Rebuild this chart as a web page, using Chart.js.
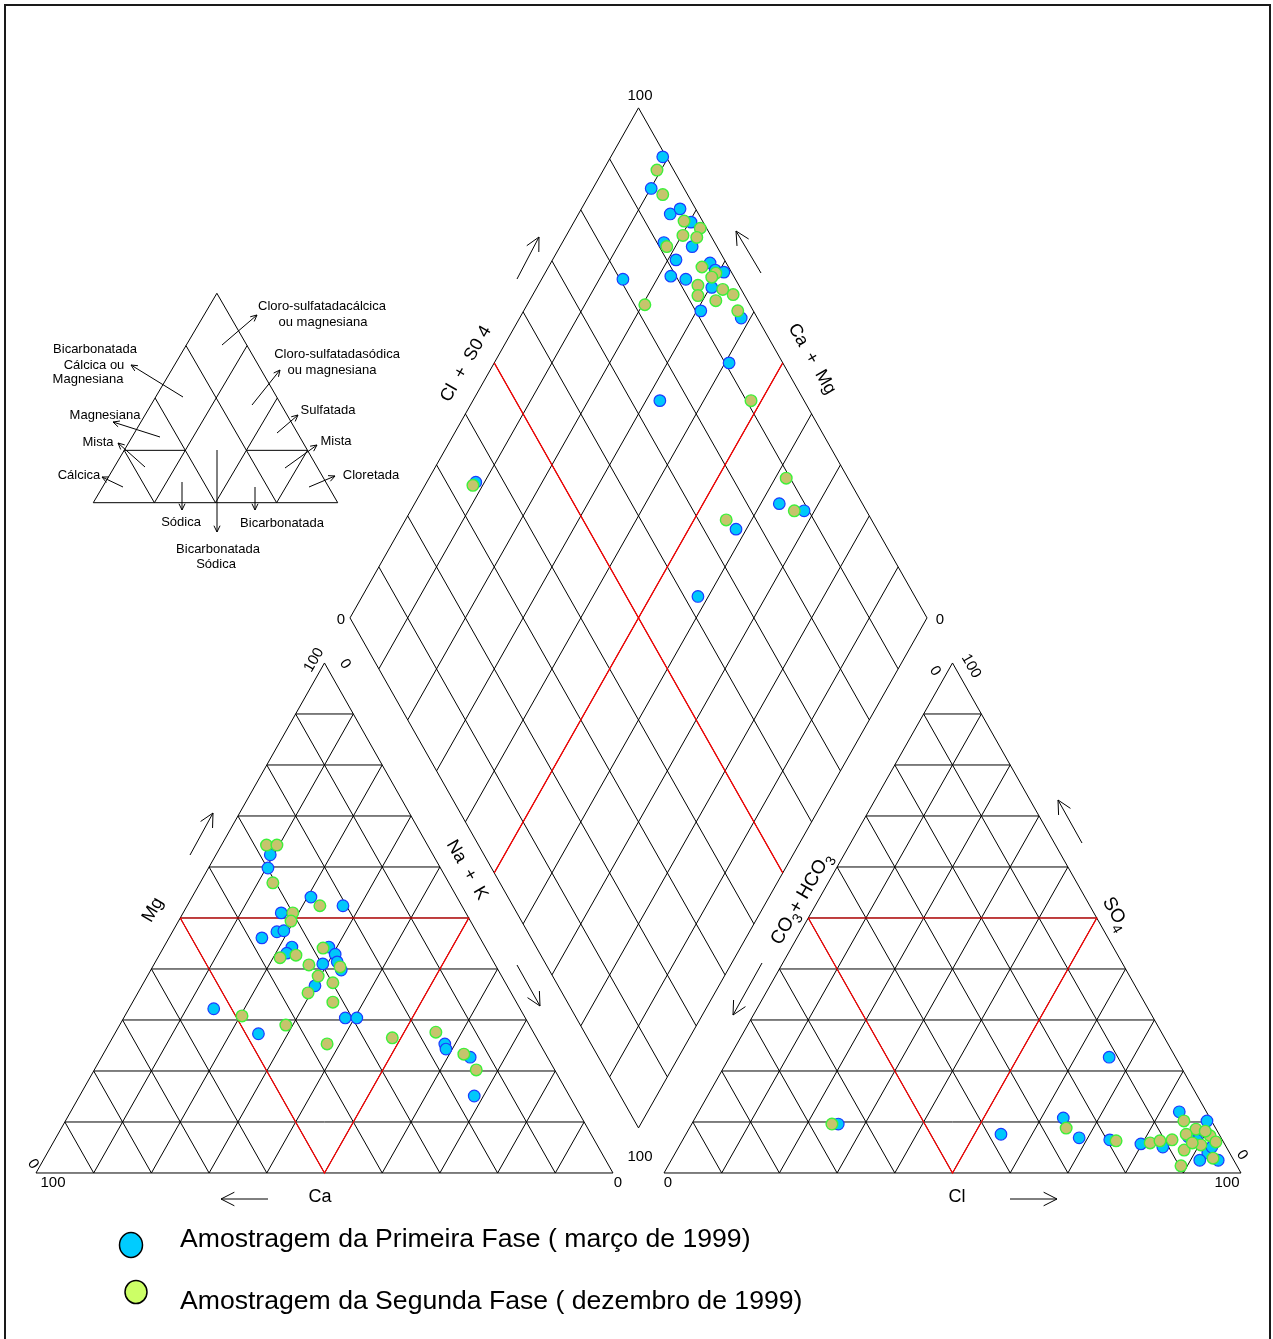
<!DOCTYPE html>
<html>
<head>
<meta charset="utf-8">
<script src="https://cdn.jsdelivr.net/npm/chart.js@4.4.1/dist/chart.umd.min.js"></script>
<style>
  html, body { margin: 0; padding: 0; background: #ffffff; }
  #wrap { width: 1273px; height: 1339px; position: relative; }
  canvas { display: block; }
</style>
</head>
<body>
<div id="wrap"><canvas id="piper" width="1273" height="1339"></canvas></div>
<script>
// ---- Piper diagram data ----------------------------------------------------
// Grid divisions (percent) used in every ternary field
const gridSteps = [10, 20, 30, 40, 50, 60, 70, 80, 90];
const axisEndLabels = ['0', '100'];

// Cation triangle (% meq): Ca and Mg; Na+K = 100 - Ca - Mg
const fase1Ca = [28.2, 29.9, 25.3, 20.6, 32.0, 34.6, 33.3, 37.8, 33.5, 35.0, 27.1, 26.7, 27.1, 29.8, 27.2, 33.3, 53.1, 31.2, 29.2, 47.8, 16.5, 16.8, 13.4, 16.5];
const fase1Mg = [62.4, 59.8, 54.1, 52.4, 51.0, 47.3, 47.5, 46.1, 44.3, 43.1, 44.3, 42.9, 41.4, 41.0, 39.8, 36.7, 32.2, 30.4, 30.4, 27.3, 25.3, 24.3, 22.7, 15.1];
const fase2Ca = [27.9, 26.1, 30.5, 24.6, 30.0, 31.1, 33.6, 36.6, 28.2, 32.3, 27.1, 31.8, 29.9, 35.2, 31.8, 48.9, 42.2, 36.9, 25.0, 16.9, 14.2, 13.6];
const fase2Mg = [64.3, 64.3, 56.9, 52.4, 51.0, 49.4, 42.7, 42.2, 44.1, 40.8, 40.4, 38.6, 37.3, 35.3, 33.5, 30.8, 29.0, 25.3, 26.5, 27.6, 23.3, 20.2];

// Anion triangle (% meq): Cl and SO4; CO3+HCO3 = 100 - Cl - SO4
const fase1Cl  = [65.8, 25.4, 54.6, 63.8, 68.5, 74.0, 79.8, 83.9, 83.3, 89.0, 89.1, 92.3, 94.8, 87.3, 92.4, 91.6];
const fase1SO4 = [22.7,  9.6,  7.6, 10.8,  6.9,  6.5,  5.7,  5.1, 12.0, 10.2,  6.5,  3.9,  2.5,  7.1,  5.1,  2.5];
const fase2Cl  = [24.3, 65.3, 75.2, 81.3, 82.8, 84.8, 85.0, 87.9, 86.7, 91.0, 92.6, 90.3, 87.9, 93.7, 88.9, 89.7, 88.6];
const fase2SO4 = [ 9.6,  8.8,  6.3,  5.9,  6.3,  6.5, 10.2,  8.6,  7.6,  7.3,  6.1,  5.5,  4.5,  2.9,  1.4,  8.2,  5.9];

// Central diamond: Cl+SO4 and Ca+Mg
const fase1ClSO4 = [99.4, 94.3, 95.1, 97.3, 97.9, 91.2, 95.7, 91.6, 89.1, 91.4, 80.5, 97.2, 97.4, 98.7, 95.1, 90.9, 97.2, 90.7, 75.0, 35.1, 85.6, 89.2, 75.6, 62.4];
const fase1CaMg  = [91.0, 89.9, 84.1, 82.9, 79.7, 82.4, 77.1, 78.6, 77.9, 75.0, 85.9, 72.4, 70.8, 69.1, 69.7, 69.3, 61.6, 59.3, 67.6, 91.5, 36.8, 31.8, 41.8, 41.8];
const fase2ClSO4 = [97.1, 95.7, 96.8, 98.9, 95.2, 97.4, 91.3, 81.8, 95.4, 97.2, 96.1, 92.9, 91.9, 96.8, 94.5, 98.1, 97.3, 90.8, 34.3, 89.3, 87.5, 74.8];
const fase2CaMg  = [90.7, 87.3, 81.0, 77.5, 79.8, 77.2, 81.5, 79.6, 73.4, 70.4, 70.7, 72.3, 71.3, 67.6, 67.7, 65.3, 62.9, 51.8, 91.7, 38.1, 33.5, 44.4];

const seriesNames = ['Amostragem da Primeira Fase ( março de 1999)', 'Amostragem da Segunda Fase ( dezembro de 1999)'];

// ---- Geometry (diagram units, triangle side = 100) -------------------------
const H = Math.sqrt(3) / 2;
const GAP = 8.84;
const C0 = {x: 0, y: 0}, C1 = {x: 100, y: 0}, C2 = {x: 50, y: 100 * H};
const A0 = {x: 100 + GAP, y: 0}, A1 = {x: 200 + GAP, y: 0}, A2 = {x: 150 + GAP, y: 100 * H};
const DB = {x: 100 + GAP / 2, y: GAP * H};
const DL = {x: 50 + GAP / 2, y: GAP * H + 100 * H};
const DT = {x: 100 + GAP / 2, y: GAP * H + 200 * H};
const DR = {x: 150 + GAP / 2, y: GAP * H + 100 * H};
// small classification triangle
const I0 = {x: 9.93, y: 113.82}, I1 = {x: 52.29, y: 113.82}, I2 = {x: 31.35, y: 149.38};

const lerp = (a, b, t) => ({x: a.x + (b.x - a.x) * t, y: a.y + (b.y - a.y) * t});

function segments(list) {
  const out = [];
  list.forEach((seg, i) => {
    if (i) out.push({x: seg[0].x, y: null});
    seg.forEach(p => out.push(p));
  });
  return out;
}

function triangleGrid(p0, p1, p2) {
  const segs = [[p0, p1, p2, p0]];
  gridSteps.forEach(k => {
    const t = k / 100;
    segs.push([lerp(p0, p2, t), lerp(p1, p2, t)]);
    segs.push([lerp(p0, p1, t), lerp(p2, p1, t)]);
    segs.push([lerp(p1, p0, t), lerp(p2, p0, t)]);
  });
  return segments(segs);
}
function triangleRed(p0, p1, p2) {
  const a = lerp(p0, p2, 0.5), b = lerp(p1, p2, 0.5), c = lerp(p0, p1, 0.5);
  return [a, b, c, a];
}
function diamondGrid() {
  const segs = [[DL, DT, DR, DB, DL]];
  gridSteps.forEach(k => {
    const t = k / 100;
    segs.push([lerp(DL, DB, t), lerp(DT, DR, t)]);
    segs.push([lerp(DL, DT, t), lerp(DB, DR, t)]);
  });
  return segments(segs);
}
function diamondRed() {
  return segments([[lerp(DL, DT, 0.5), lerp(DB, DR, 0.5)], [lerp(DL, DB, 0.5), lerp(DT, DR, 0.5)]]);
}
function insetPt(s, h) {
  const base = lerp(I0, I1, s);
  const mid = lerp(I0, I1, 0.5);
  return {x: base.x + h * (I2.x - mid.x), y: base.y + h * (I2.y - mid.y)};
}
function insetLines() {
  const P = (s, h) => insetPt(s, h);
  return segments([
    [P(0, 0), P(1, 0), P(0.5, 1), P(0, 0)],
    [P(0.375, 0.75), P(0.75, 0)],
    [P(0.625, 0.75), P(0.25, 0)],
    [P(0.25, 0.5), P(0.5, 0)],
    [P(0.75, 0.5), P(0.5, 0)],
    [P(0.125, 0.25), P(0.375, 0.25)],
    [P(0.625, 0.25), P(0.875, 0.25)],
    [P(0.125, 0.25), P(0.25, 0)],
    [P(0.875, 0.25), P(0.75, 0)]
  ]);
}

const toCation = (ca, mg) => ({x: (100 - ca - mg) + mg / 2, y: mg * H});
const toAnion = (cl, so4) => ({x: A0.x + cl + so4 / 2, y: so4 * H});
const toDiamond = (a, c) => ({x: DL.x + 0.5 * a + 0.5 * (100 - c), y: DL.y + H * a - H * (100 - c)});

function phasePoints(ca, mg, cl, so4, clso4, camg) {
  const pts = [];
  ca.forEach((v, i) => pts.push(toCation(v, mg[i])));
  cl.forEach((v, i) => pts.push(toAnion(v, so4[i])));
  clso4.forEach((v, i) => pts.push(toDiamond(v, camg[i])));
  return pts;
}

const lineDs = (data, color, order, width) => ({
  data, showLine: true, borderColor: color, borderWidth: width || 1, pointRadius: 0,
  pointHoverRadius: 0, fill: false, spanGaps: false, order, tension: 0
});

// ---- Text and arrow decorations --------------------------------------------
const FONT = '"Liberation Sans", Arial, Helvetica, sans-serif';
const insetTexts = [
  ['Cloro-sulfatadacálcica', 322, 306], ['ou magnesiana', 323, 322],
  ['Cloro-sulfatadasódica', 337, 354], ['ou magnesiana', 332, 370],
  ['Bicarbonatada', 95, 349], ['Cálcica ou', 94, 365], ['Magnesiana', 88, 379],
  ['Magnesiana', 105, 415], ['Mista', 98, 442], ['Cálcica', 79, 475],
  ['Sulfatada', 328, 410], ['Mista', 336, 441], ['Cloretada', 371, 475],
  ['Sódica', 181, 522], ['Bicarbonatada', 282, 523], ['Bicarbonatada', 218, 549], ['Sódica', 216, 564]
];
const insetArrows = [
  [222, 345, 257, 315], [183, 397, 131, 365], [252, 405, 280, 370], [160, 437, 113, 422],
  [277, 433, 298, 415], [145, 467, 118, 443], [285, 468, 317, 445], [123, 487, 102, 477],
  [309, 487, 335, 476], [182, 482, 182, 510], [217, 450, 217, 532], [255, 487, 255, 510]
];
const axisArrows = [
  [190, 855, 213, 813], [268, 1199, 221, 1199], [517, 965, 540, 1006], [517, 279, 539, 237],
  [761, 273, 736, 231], [762, 963, 733, 1015], [1082, 843, 1058, 800], [1010, 1199, 1057, 1199]
];
const axisTexts = [
  {t: 'Mg', x: 153, y: 910, r: -60}, {t: 'Ca', x: 320, y: 1197, r: 0},
  {t: 'Na  +  K', x: 467, y: 870, r: 60}, {t: 'Cl  +  S0 4', x: 466, y: 364, r: -60},
  {t: 'Ca  +  Mg', x: 812, y: 359, r: 60}, {t: 'Cl', x: 957, y: 1197, r: 0}
];
const tickTexts = [
  {t: axisEndLabels[1], x: 640, y: 96, r: 0}, {t: axisEndLabels[0], x: 341, y: 620, r: 0},
  {t: axisEndLabels[0], x: 940, y: 620, r: 0}, {t: axisEndLabels[1], x: 314, y: 660, r: -60},
  {t: axisEndLabels[0], x: 345, y: 664, r: 55}, {t: axisEndLabels[0], x: 935, y: 671, r: 55},
  {t: axisEndLabels[1], x: 971, y: 666, r: 60}, {t: axisEndLabels[0], x: 33, y: 1164, r: 55},
  {t: axisEndLabels[1], x: 53, y: 1183, r: 0}, {t: axisEndLabels[0], x: 618, y: 1183, r: 0},
  {t: axisEndLabels[1], x: 640, y: 1157, r: 0}, {t: axisEndLabels[0], x: 668, y: 1183, r: 0},
  {t: axisEndLabels[1], x: 1227, y: 1183, r: 0}, {t: axisEndLabels[0], x: 1242, y: 1155, r: 55}
];

function arrow(ctx, x1, y1, x2, y2, head, spread) {
  const ang = Math.atan2(y1 - y2, x1 - x2);
  ctx.beginPath();
  ctx.moveTo(x1, y1); ctx.lineTo(x2, y2);
  ctx.moveTo(x2 + head * Math.cos(ang + spread), y2 + head * Math.sin(ang + spread));
  ctx.lineTo(x2, y2);
  ctx.lineTo(x2 + head * Math.cos(ang - spread), y2 + head * Math.sin(ang - spread));
  ctx.stroke();
}
function rotText(ctx, t, x, y, r, font) {
  ctx.save();
  ctx.translate(x, y);
  ctx.rotate(r * Math.PI / 180);
  ctx.font = font;
  ctx.textAlign = 'center';
  ctx.textBaseline = 'middle';
  ctx.fillText(t, 0, 0);
  ctx.restore();
}
// text with subscript parts: parts = [[text, isSub], ...]
function subText(ctx, parts, x, y, r, size) {
  ctx.save();
  ctx.translate(x, y);
  ctx.rotate(r * Math.PI / 180);
  ctx.textBaseline = 'alphabetic';
  ctx.textAlign = 'left';
  const sub = Math.round(size * 0.72);
  let total = 0;
  parts.forEach(([t, s]) => { ctx.font = (s ? sub : size) + 'px ' + FONT; total += ctx.measureText(t).width; });
  let cx = -total / 2;
  parts.forEach(([t, s]) => {
    ctx.font = (s ? sub : size) + 'px ' + FONT;
    ctx.fillText(t, cx, size * 0.36 + (s ? size * 0.3 : 0));
    cx += ctx.measureText(t).width;
  });
  ctx.restore();
}

const decor = {
  id: 'decor',
  afterDraw(chart) {
    const ctx = chart.ctx;
    ctx.save();
    ctx.fillStyle = '#000';
    ctx.strokeStyle = '#000';
    ctx.lineWidth = 1;

    // classification sketch
    ctx.font = '13px ' + FONT;
    ctx.textAlign = 'center';
    ctx.textBaseline = 'middle';
    insetTexts.forEach(([t, x, y]) => ctx.fillText(t, x, y));
    insetArrows.forEach(a => arrow(ctx, a[0], a[1], a[2], a[3], 7, 0.45));

    // axis titles
    axisTexts.forEach(o => rotText(ctx, o.t, o.x, o.y, o.r, '18px ' + FONT));
    subText(ctx, [['CO', false], ['3', true], ['+ HCO', false], ['3', true]], 800, 898, -60, 19);
    subText(ctx, [['SO', false], ['4', true]], 1117, 913, 60, 19);
    axisArrows.forEach(a => arrow(ctx, a[0], a[1], a[2], a[3], 15, 0.47));

    // percentage ends
    tickTexts.forEach(o => rotText(ctx, o.t, o.x, o.y, o.r, '15px ' + FONT));

    // legend
    ctx.lineWidth = 1.5;
    ctx.beginPath(); ctx.ellipse(131, 1245, 11.5, 12.5, 0, 0, Math.PI * 2);
    ctx.fillStyle = '#00ccff'; ctx.fill(); ctx.stroke();
    ctx.beginPath(); ctx.ellipse(136, 1292, 11, 11.5, 0, 0, Math.PI * 2);
    ctx.fillStyle = '#ccff66'; ctx.fill(); ctx.stroke();
    ctx.fillStyle = '#000';
    ctx.font = '26.6px ' + FONT;
    ctx.textAlign = 'left';
    ctx.textBaseline = 'middle';
    ctx.fillText(seriesNames[0], 180, 1240);
    ctx.fillText(seriesNames[1], 180, 1302);

    // frame
    ctx.strokeStyle = '#1a1a1a';
    ctx.lineWidth = 2;
    ctx.strokeRect(5, 5, 1265, 1400);
    ctx.restore();
  }
};

const chart = new Chart(document.getElementById('piper'), {
  type: 'scatter',
  data: {
    datasets: [
      lineDs(triangleGrid(C0, C1, C2), '#000000', 10),
      lineDs(triangleGrid(A0, A1, A2), '#000000', 10),
      lineDs(diamondGrid(), '#000000', 10),
      lineDs(insetLines(), '#000000', 10),
      lineDs(triangleRed(C0, C1, C2), '#ff0000', 8, 1.2),
      lineDs(triangleRed(A0, A1, A2), '#ff0000', 8, 1.2),
      lineDs(diamondRed(), '#ff0000', 8, 1.2),
      {
        label: seriesNames[0],
        data: phasePoints(fase1Ca, fase1Mg, fase1Cl, fase1SO4, fase1ClSO4, fase1CaMg),
        backgroundColor: '#00c8fa', borderColor: '#1a3cff', borderWidth: 1.2,
        pointRadius: 5.8, pointHoverRadius: 5.8, order: 2
      },
      {
        label: seriesNames[1],
        data: phasePoints(fase2Ca, fase2Mg, fase2Cl, fase2SO4, fase2ClSO4, fase2CaMg),
        backgroundColor: '#c6c46c', borderColor: '#3ef03a', borderWidth: 1.4,
        pointRadius: 5.8, pointHoverRadius: 5.8, order: 1
      }
    ]
  },
  options: {
    responsive: false,
    animation: false,
    devicePixelRatio: 1,
    layout: {padding: 0, autoPadding: false},
    plugins: {legend: {display: false}, tooltip: {enabled: false}, title: {display: false}},
    events: [],
    scales: {
      x: {type: 'linear', min: -6.239, max: 214.385, display: false},
      y: {type: 'linear', min: -28.19, max: 199.18, display: false}
    }
  },
  plugins: [decor]
});
</script>
</body>
</html>
